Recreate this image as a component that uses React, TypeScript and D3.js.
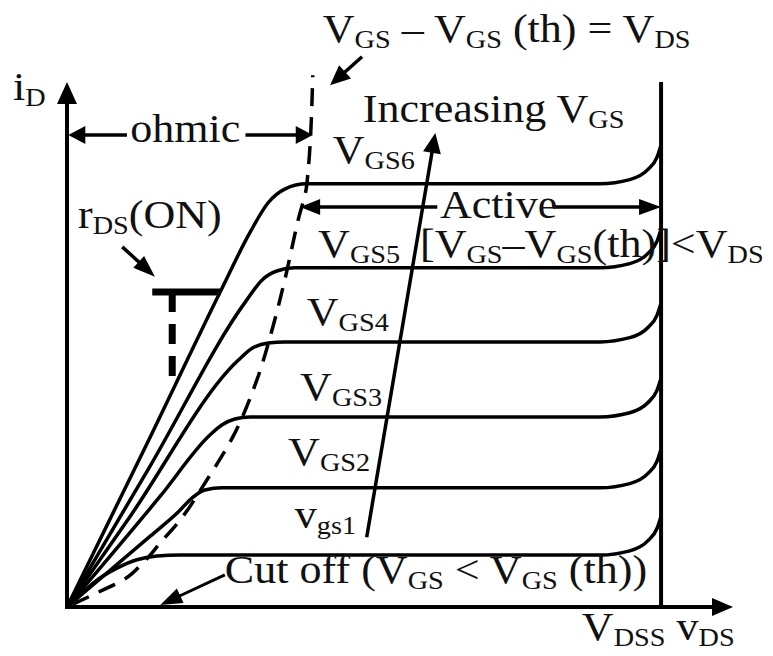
import React from "react";
import * as d3 from "d3";

const W = 773;
const H = 656;

// Output characteristics, [vDS, iD] pairs (arbitrary units)
const vgs6Curve: [number, number][] = [[0, 0], [1.25, 3.24], [2.30, 6.0], [2.75, 7.14], [3.02, 7.70], [3.27, 7.96], [3.60, 8.06], [8.0, 8.06], [8.45, 8.14], [8.72, 8.33], [8.86, 8.57], [8.92, 8.80]];
const vgs5Curve: [number, number][] = [[0, 0], [1.25, 2.69], [2.70, 5.85], [2.93, 6.23], [3.15, 6.40], [3.42, 6.46], [8.0, 6.46], [8.45, 6.54], [8.72, 6.73], [8.86, 6.97], [8.92, 7.20]];
const vgs4Curve: [number, number][] = [[0, 0], [0.95, 1.73], [2.57, 4.70], [2.78, 4.93], [3.02, 5.03], [3.27, 5.05], [8.0, 5.05], [8.45, 5.13], [8.72, 5.32], [8.86, 5.56], [8.92, 5.79]];
const vgs3Curve: [number, number][] = [[0, 0], [1.40, 2.11], [2.15, 3.28], [2.33, 3.47], [2.52, 3.58], [2.75, 3.62], [8.0, 3.62], [8.45, 3.70], [8.72, 3.89], [8.86, 4.13], [8.92, 4.36]];
const vgs2Curve: [number, number][] = [[0, 0], [1.25, 1.35], [1.67, 1.81], [1.88, 2.08], [2.07, 2.23], [2.33, 2.27], [8.0, 2.27], [8.45, 2.35], [8.72, 2.54], [8.86, 2.78], [8.92, 3.01]];
const vgs1Curve: [number, number][] = [[0, 0], [0.195, 0.23], [0.45, 0.51], [0.75, 0.74], [1.05, 0.90], [1.35, 0.97], [1.70, 0.99], [8.0, 0.99], [8.45, 1.07], [8.72, 1.26], [8.86, 1.50], [8.92, 1.73]];
const curves = [vgs1Curve, vgs2Curve, vgs3Curve, vgs4Curve, vgs5Curve, vgs6Curve];

// Boundary between ohmic and active regions: vDS = vGS - vGS(th)
const pinchOff: [number, number][] = [[0, 0], [0.45, 0.27], [0.84, 0.51], [1.14, 0.84], [1.40, 1.22], [1.70, 1.66], [2.10, 2.42], [2.49, 3.24], [2.85, 4.32], [3.09, 5.33], [3.27, 6.23], [3.47, 7.37], [3.60, 8.04], [3.69, 10.13]];

// Curve labels: main letter + subscript
const curveLabelMain = ["v", "V", "V", "V", "V", "V"];
const curveLabelSub = ["gs1", "GS2", "GS3", "GS4", "GS5", "GS6"];

const vDSS = 8.92;
const iMax = 10;
const vMax = 10;

const x = d3.scaleLinear().domain([0, 10]).range([67, 733]);
const y = d3.scaleLinear().domain([0, 10]).range([607, 82]);

const FS = 39;
const SUB = 25;
const SX = 1.13;
const INK = "#111";

type Part = [string, boolean?];

function Label({ px, py, parts }: { px: number; py: number; parts: Part[] }) {
  let shifted = false;
  return (
    <g transform={`translate(${px},${py}) scale(${SX},1)`}>
      <text
        x={0}
        y={0}
        fill={INK}
        fontFamily="'Liberation Serif', 'Times New Roman', serif"
        fontSize={FS}
        style={{ whiteSpace: "pre" }}
      >
        {parts.map(([t, sub], i) => {
          let dy = 0;
          if (sub && !shifted) { dy = 6; shifted = true; }
          else if (!sub && shifted) { dy = -6; shifted = false; }
          return (
            <tspan key={i} dy={dy} fontSize={sub ? SUB : FS}>{t}</tspan>
          );
        })}
      </text>
    </g>
  );
}

function head(x1: number, y1: number, x2: number, y2: number, len: number, half: number) {
  const a = Math.atan2(y2 - y1, x2 - x1);
  const bx = x2 - len * Math.cos(a);
  const by = y2 - len * Math.sin(a);
  const nx = -Math.sin(a) * half;
  const ny = Math.cos(a) * half;
  return `${x2},${y2} ${bx + nx},${by + ny} ${bx - nx},${by - ny}`;
}

function Arrow({ a, b, len = 20, half = 8, sw = 3.5 }: { a: [number, number]; b: [number, number]; len?: number; half?: number; sw?: number }) {
  const [x1, y1] = [x(a[0]), y(a[1])];
  const [x2, y2] = [x(b[0]), y(b[1])];
  const ang = Math.atan2(y2 - y1, x2 - x1);
  const ex = x2 - (len - 2) * Math.cos(ang);
  const ey = y2 - (len - 2) * Math.sin(ang);
  return (
    <g>
      <line x1={x1} y1={y1} x2={ex} y2={ey} stroke="#000" strokeWidth={sw} />
      <polygon points={head(x1, y1, x2, y2, len, half)} fill="#000" />
    </g>
  );
}

export default function App() {
  const line = d3
    .line<[number, number]>()
    .x((d) => x(d[0]))
    .y((d) => y(d[1]))
    .curve(d3.curveMonotoneX);

  const labelAnchors: [number, number][] = [[3.42, 1.50], [3.32, 2.70], [3.50, 3.94], [3.60, 5.37], [3.77, 6.67], [3.99, 8.46]];
  const pinchRev = [...pinchOff].reverse();
  const pinchPath = d3
    .line<[number, number]>()
    .x((d) => x(d[0]))
    .y((d) => y(d[1]))
    .curve(d3.curveMonotoneY)(pinchRev);

  return (
    <svg width={W} height={H} style={{ display: "block", position: "absolute", left: 0, top: 0, background: "#fff" }}>
      <rect width={W} height={H} fill="#fff" />

      {/* axes */}
      <line x1={x(0)} y1={y(0)} x2={x(vMax) - 18} y2={y(0)} stroke="#000" strokeWidth={4} />
      <polygon points={head(x(0), y(0), x(vMax), y(0), 21, 9)} fill="#000" />
      <line x1={x(0)} y1={y(0) + 2} x2={x(0)} y2={y(iMax) + 18} stroke="#000" strokeWidth={4} />
      <polygon points={head(x(0), y(0), x(0), y(iMax), 22, 10)} fill="#000" />

      {/* breakdown limit */}
      <line x1={x(vDSS)} y1={y(0)} x2={x(vDSS)} y2={y(iMax)} stroke="#000" strokeWidth={4} />

      {/* pinch-off boundary */}
      <path d={pinchPath || ""} fill="none" stroke="#000" strokeWidth={3.5} strokeDasharray="18 11" strokeDashoffset={16} />

      {/* characteristic curves */}
      {curves.map((c, i) => (
        <path key={i} d={line(c) || ""} fill="none" stroke="#000" strokeWidth={3.5} strokeLinejoin="round" />
      ))}

      {/* rDS(ON) triangle */}
      <line x1={x(1.28)} y1={y(6.0)} x2={x(2.30)} y2={y(6.0)} stroke="#000" strokeWidth={7} />
      <line x1={x(1.58)} y1={y(6.0)} x2={x(1.58)} y2={y(4.23)} stroke="#000" strokeWidth={7} strokeDasharray="20 12" />
      <Arrow a={[0.83, 6.86]} b={[1.32, 6.29]} len={22} half={8} />
      <Label px={x(0.165)} py={y(7.22)} parts={[["r"], ["DS", true], ["(ON)"]]} />

      {/* ohmic */}
      <line x1={x(0.1)} y1={y(8.99)} x2={x(0.9)} y2={y(8.99)} stroke="#000" strokeWidth={3.5} />
      <line x1={x(2.68)} y1={y(8.99)} x2={x(3.55)} y2={y(8.99)} stroke="#000" strokeWidth={3.5} />
      <polygon points={head(x(1), y(8.99), x(0.02), y(8.99), 17, 9)} fill="#000" />
      <polygon points={head(x(2), y(8.99), x(3.69), y(8.99), 17, 9)} fill="#000" />
      <Label px={x(0.95)} py={y(8.86)} parts={[["ohmic"]]} />

      {/* active */}
      <line x1={x(3.7)} y1={y(7.62)} x2={x(5.56)} y2={y(7.62)} stroke="#000" strokeWidth={3.5} />
      <line x1={x(7.3)} y1={y(7.62)} x2={x(8.7)} y2={y(7.62)} stroke="#000" strokeWidth={3.5} />
      <polygon points={head(x(5), y(7.62), x(3.5), y(7.62), 20, 8)} fill="#000" />
      <polygon points={head(x(7), y(7.62), x(vDSS), y(7.62), 22, 8)} fill="#000" />
      <Label px={x(5.6)} py={y(7.41)} parts={[["Active"]]} />
      <Label px={x(5.3)} py={y(6.67)} parts={[["[V"], ["GS", true], ["–V"], ["GS", true], ["(th)]<V"], ["DS", true]]} />

      {/* title & its arrow */}
      <Label px={x(3.84)} py={y(10.76)} parts={[["V"], ["GS", true], [" – V"], ["GS", true], [" (th) = V"], ["DS", true]]} />
      <Arrow a={[4.43, 10.48]} b={[3.95, 9.94]} len={20} half={9} />

      {/* increasing VGS */}
      <Label px={x(4.44)} py={y(9.24)} parts={[["Increasing V"], ["GS", true]]} />
      <Arrow a={[4.50, 1.33]} b={[5.53, 9.03]} len={20} half={9} />

      {/* curve labels */}
      {curveLabelMain.map((m, i) => (
        <Label key={i} px={x(labelAnchors[i][0])} py={y(labelAnchors[i][1])} parts={[[m], [curveLabelSub[i], true]]} />
      ))}

      {/* cut off */}
      <Label px={x(2.37)} py={y(0.46)} parts={[["Cut off (V"], ["GS", true], [" < V"], ["GS", true], [" (th))"]]} />
      <Arrow a={[2.37, 0.61]} b={[1.40, 0.04]} len={22} half={8} sw={3} />

      {/* axis titles */}
      <Label px={x(-0.81)} py={y(9.66)} parts={[["i"], ["D", true]]} />
      <Label px={x(7.73)} py={y(-0.63)} parts={[["V"], ["DSS", true], [" v"], ["DS", true]]} />
    </svg>
  );
}
